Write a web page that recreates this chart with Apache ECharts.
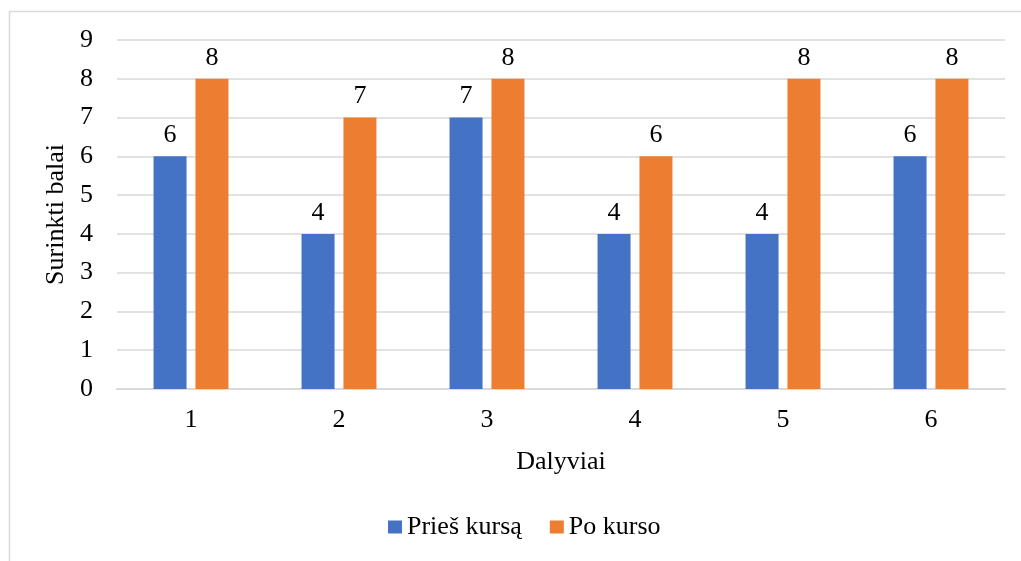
<!DOCTYPE html>
<html>
<head>
<meta charset="utf-8">
<script src="https://cdn.jsdelivr.net/npm/echarts@6/dist/echarts.min.js"></script>
<style>
  html, body { margin: 0; padding: 0; background: #fff; }
  #chart { width: 1021px; height: 561px; }
</style>
</head>
<body>
<div id="chart"></div>
<script>
const categories = ['1', '2', '3', '4', '5', '6'];
const beforeCourse = [6, 4, 7, 4, 4, 6];
const afterCourse = [8, 7, 8, 6, 8, 8];
const seriesNames = ['Prieš kursą', 'Po kurso'];

const FONT = '"Liberation Serif", "Times New Roman", serif';
const FS = 26;
const chart = echarts.init(document.getElementById('chart'));

const labelStyle = {
  show: true,
  position: 'top',
  distance: 8,
  fontFamily: FONT,
  fontSize: FS,
  color: '#000'
};

chart.setOption({
  animation: false,
  graphic: [{
    type: 'rect',
    shape: { x: 9.5, y: 11.5, width: 1100, height: 600 },
    style: { fill: 'none', stroke: '#d9d9d9', lineWidth: 1.5 },
    silent: true
  }],
  grid: { left: 117, right: 16, top: 40, bottom: 172 },
  legend: {
    bottom: 16,
    left: 383,
    itemWidth: 14,
    itemHeight: 13,
    itemGap: 28,
    icon: 'rect',
    textStyle: { fontFamily: FONT, fontSize: FS, color: '#000' },
    data: seriesNames
  },
  xAxis: {
    type: 'category',
    data: categories,
    name: 'Dalyviai',
    nameLocation: 'middle',
    nameGap: 60,
    nameTextStyle: { fontFamily: FONT, fontSize: FS, color: '#000' },
    axisLine: { lineStyle: { color: '#d9d9d9', width: 2 } },
    axisTick: { show: false },
    axisLabel: { fontFamily: FONT, fontSize: FS, color: '#000', margin: 18 }
  },
  yAxis: {
    type: 'value',
    min: 0,
    max: 9,
    interval: 1,
    name: 'Surinkti balai',
    nameLocation: 'middle',
    nameGap: 46,
    nameRotate: 90,
    nameTextStyle: { fontFamily: FONT, fontSize: FS, color: '#000' },
    axisLine: { show: false },
    axisTick: { show: false },
    axisLabel: { fontFamily: FONT, fontSize: FS, color: '#000', margin: 24 },
    splitLine: { lineStyle: { color: '#d9d9d9', width: 1.5 } }
  },
  series: [
    {
      name: seriesNames[0],
      type: 'bar',
      data: beforeCourse,
      barWidth: 33,
      barGap: '27%',
      itemStyle: { color: '#4472c4' },
      label: labelStyle
    },
    {
      name: seriesNames[1],
      type: 'bar',
      data: afterCourse,
      barWidth: 33,
      itemStyle: { color: '#ed7d31' },
      label: labelStyle
    }
  ]
});
</script>
</body>
</html>
